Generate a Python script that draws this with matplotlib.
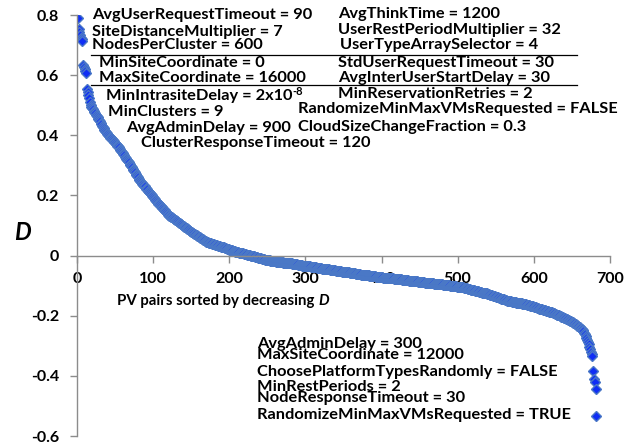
import numpy as np
import matplotlib
matplotlib.use("Agg")
import matplotlib.pyplot as plt

plt.rcParams['font.family'] = ['Lato', 'DejaVu Sans']
plt.rcParams['font.weight'] = 'bold'

# D values of the PV pairs, sorted by decreasing D
d_head = [0.790, 0.752, 0.742, 0.733, 0.725, 0.719, 0.714, 0.635, 0.627, 0.620, 0.613, 0.607,
          0.555, 0.545, 0.534, 0.523, 0.512, 0.500,
          0.495, 0.491, 0.487, 0.482, 0.478, 0.473, 0.469, 0.464, 0.460,
          0.455, 0.451, 0.446, 0.442, 0.437, 0.432, 0.428, 0.423, 0.419, 0.414, 0.410,
          0.407, 0.404, 0.401, 0.398, 0.395, 0.392, 0.390, 0.387, 0.384, 0.381,
          0.378, 0.375, 0.372, 0.369, 0.366, 0.363, 0.360,
          0.356, 0.352, 0.348, 0.345, 0.341, 0.337, 0.333, 0.329, 0.325, 0.321, 0.318, 0.314, 0.310,
          0.306, 0.302, 0.298, 0.293, 0.289, 0.285, 0.281, 0.277, 0.272, 0.268, 0.264, 0.260, 0.256,
          0.253, 0.249, 0.246, 0.243, 0.239, 0.236, 0.233, 0.230, 0.226, 0.223, 0.220, 0.216, 0.213, 0.210,
          0.207, 0.204, 0.201, 0.198, 0.195, 0.191, 0.188, 0.185, 0.182, 0.179, 0.176, 0.173, 0.170,
          0.167, 0.164, 0.161, 0.158, 0.155, 0.153, 0.150, 0.147, 0.144, 0.141, 0.138, 0.135,
          0.133, 0.132, 0.130, 0.128, 0.127, 0.125, 0.123, 0.122, 0.120, 0.118]

d_upper = [0.116, 0.114, 0.112, 0.110, 0.108, 0.106, 0.104, 0.102, 0.100, 0.098,
           0.096, 0.094, 0.092, 0.091, 0.089, 0.087, 0.085, 0.083,
           0.081, 0.080, 0.078, 0.076, 0.075, 0.073, 0.071, 0.070, 0.068, 0.066,
           0.065, 0.063, 0.061, 0.060, 0.058, 0.056, 0.055, 0.053, 0.051, 0.050, 0.048, 0.046, 0.045,
           0.044, 0.043, 0.042, 0.042, 0.041, 0.040, 0.039, 0.038, 0.037, 0.036,
           0.036, 0.035, 0.034, 0.033, 0.032, 0.031, 0.031, 0.030, 0.029, 0.028, 0.028,
           0.027, 0.026, 0.025, 0.024, 0.023, 0.022, 0.021, 0.020, 0.019, 0.019,
           0.018, 0.017, 0.016, 0.015, 0.014, 0.013, 0.013, 0.012,
           0.011, 0.011, 0.010, 0.009, 0.009, 0.008, 0.007, 0.007, 0.006, 0.005,
           0.005, 0.004, 0.003, 0.003, 0.002]

d_middle = [0.001, 0.001, 0.000, -0.001, -0.001, -0.002, -0.003, -0.003, -0.004, -0.005,
            -0.005, -0.006, -0.007, -0.007, -0.008, -0.009, -0.009, -0.010, -0.011, -0.011,
            -0.012, -0.013, -0.013, -0.014, -0.015, -0.015, -0.016, -0.016, -0.017,
            -0.017, -0.018, -0.018, -0.018, -0.019, -0.019, -0.019, -0.020, -0.020, -0.020,
            -0.021, -0.021, -0.021, -0.022, -0.022, -0.022, -0.023, -0.023, -0.023, -0.024,
            -0.024, -0.024, -0.025, -0.025, -0.025, -0.026, -0.026, -0.026, -0.027, -0.027,
            -0.027, -0.028, -0.028, -0.029, -0.029, -0.030, -0.030, -0.031, -0.031, -0.032,
            -0.032, -0.033, -0.033,
            -0.033, -0.034, -0.034, -0.034, -0.035, -0.035, -0.035, -0.036, -0.036, -0.037,
            -0.037, -0.037, -0.038, -0.038, -0.039, -0.039, -0.039, -0.040, -0.040, -0.041,
            -0.041, -0.041, -0.042, -0.042, -0.043, -0.043, -0.043, -0.044, -0.044, -0.045,
            -0.045, -0.045, -0.046, -0.046, -0.047, -0.047, -0.047, -0.048, -0.048, -0.049,
            -0.049, -0.049, -0.050, -0.050,
            -0.050, -0.051, -0.051, -0.051, -0.052, -0.052, -0.053, -0.053, -0.053, -0.054,
            -0.054, -0.055, -0.055, -0.055, -0.056, -0.056, -0.057, -0.057, -0.057, -0.058,
            -0.058, -0.059, -0.059, -0.059, -0.060, -0.060, -0.061, -0.061, -0.061, -0.062,
            -0.062, -0.063, -0.063, -0.063, -0.064, -0.064, -0.065, -0.065, -0.065, -0.066,
            -0.066, -0.066, -0.067, -0.067,
            -0.067, -0.068, -0.068, -0.068, -0.069, -0.069, -0.069, -0.070, -0.070, -0.070,
            -0.071, -0.071, -0.071, -0.072, -0.072, -0.072, -0.073, -0.073, -0.073, -0.074,
            -0.074, -0.074, -0.075, -0.075, -0.075, -0.075, -0.076, -0.076, -0.076, -0.076,
            -0.077, -0.077, -0.077, -0.077, -0.077]

d_lower = [-0.078, -0.078, -0.078, -0.079, -0.079, -0.079, -0.080, -0.080, -0.080, -0.081,
           -0.081, -0.081, -0.082, -0.082, -0.082, -0.083, -0.083, -0.083, -0.084, -0.084,
           -0.084, -0.085, -0.085, -0.085, -0.086, -0.086, -0.086, -0.087, -0.087, -0.087,
           -0.088, -0.088, -0.088, -0.089, -0.089, -0.089, -0.090, -0.090, -0.090, -0.090,
           -0.091, -0.091, -0.091, -0.091, -0.092, -0.092, -0.092, -0.092,
           -0.093, -0.093, -0.093, -0.094, -0.094, -0.094, -0.095, -0.095, -0.095, -0.096,
           -0.096, -0.096, -0.097, -0.097, -0.097, -0.098, -0.098, -0.098, -0.099, -0.099,
           -0.099, -0.100, -0.100, -0.100, -0.101, -0.101, -0.101, -0.102, -0.102, -0.102,
           -0.103, -0.103, -0.103, -0.104, -0.104, -0.105, -0.105, -0.106, -0.106,
           -0.107, -0.107, -0.108, -0.109, -0.109, -0.110, -0.111, -0.111, -0.112, -0.113,
           -0.113, -0.114, -0.115, -0.115, -0.116, -0.117, -0.117, -0.118, -0.119, -0.119,
           -0.120, -0.121, -0.121, -0.122, -0.123, -0.123, -0.124, -0.125, -0.125, -0.126,
           -0.126, -0.127,
           -0.128, -0.129, -0.130, -0.131, -0.131, -0.132, -0.133, -0.134, -0.135, -0.136,
           -0.137, -0.138, -0.138, -0.139, -0.140, -0.141, -0.142, -0.143, -0.144, -0.145,
           -0.145, -0.146, -0.147, -0.148, -0.149, -0.150,
           -0.150, -0.151, -0.151, -0.152, -0.152, -0.153, -0.153, -0.154, -0.154, -0.155,
           -0.155, -0.156, -0.156, -0.157, -0.157, -0.158, -0.158, -0.159, -0.159, -0.160,
           -0.160, -0.161, -0.161, -0.162, -0.162, -0.163, -0.164, -0.164, -0.165, -0.166]

d_tail = [-0.167, -0.168, -0.168, -0.169, -0.170, -0.171, -0.172, -0.172, -0.173, -0.174,
          -0.175, -0.176, -0.176, -0.177, -0.178, -0.179, -0.180, -0.180, -0.181, -0.182,
          -0.183, -0.184, -0.184, -0.185, -0.186, -0.187, -0.188, -0.188, -0.189, -0.190,
          -0.191, -0.192, -0.193, -0.195, -0.196, -0.197, -0.198, -0.199, -0.200, -0.202,
          -0.203, -0.204, -0.205, -0.206, -0.207, -0.209, -0.210, -0.211, -0.212, -0.213,
          -0.214, -0.216, -0.217, -0.218, -0.220, -0.221, -0.223,
          -0.225, -0.227, -0.229, -0.231, -0.233, -0.235, -0.237, -0.239, -0.241, -0.243,
          -0.245, -0.247, -0.250,
          -0.256, -0.262, -0.268, -0.274, -0.280, -0.287, -0.295, -0.303, -0.312, -0.320,
          -0.327, -0.333,
          -0.383, -0.410, -0.420, -0.443, -0.532]

d_values = np.array(d_head + d_upper + d_middle + d_lower + d_tail)
pair_rank = np.arange(1, len(d_values) + 1)

x_ticks = [0, 100, 200, 300, 400, 500, 600, 700]
y_ticks = [-0.6, -0.4, -0.2, 0, 0.2, 0.4, 0.6, 0.8]

# parameter settings written next to the curve: (text, x, y)
top_left_notes = [
    ("AvgUserRequestTimeout = 90", 19.7, 0.799),
    ("SiteDistanceMultiplier = 7", 19.7, 0.745),
    ("NodesPerCluster = 600", 19.7, 0.699),
    ("MinSiteCoordinate = 0", 28.9, 0.639),
    ("MaxSiteCoordinate = 16000", 28.9, 0.589),
    ("MinIntrasiteDelay = 2x10", 38.1, 0.532),
    ("MinClusters = 9", 40.7, 0.479),
    ("AvgAdminDelay = 900", 64.4, 0.426),
    ("ClusterResponseTimeout = 120", 84.1, 0.373),
]
top_right_notes = [
    ("AvgThinkTime = 1200", 343, 0.805),
    ("UserRestPeriodMultiplier = 32", 343, 0.749),
    ("UserTypeArraySelector = 4", 345, 0.702),
    ("StdUserRequestTimeout = 30", 343, 0.642),
    ("AvgInterUserStartDelay = 30", 343, 0.592),
    ("MinReservationRetries = 2", 343, 0.536),
    ("RandomizeMinMaxVMsRequested = FALSE", 290, 0.486),
    ("CloudSizeChangeFraction = 0.3", 290, 0.429),
]
bottom_notes = [
    ("AvgAdminDelay = 300", 236, -0.293),
    ("MaxSiteCoordinate = 12000", 236, -0.329),
    ("ChoosePlatformTypesRandomly = FALSE", 236, -0.386),
    ("MinRestPeriods = 2", 236, -0.436),
    ("NodeResponseTimeout = 30", 236, -0.473),
    ("RandomizeMinMaxVMsRequested = TRUE", 236, -0.529),
]

fig = plt.figure(figsize=(6.32, 4.45), dpi=100)
ax = fig.add_axes([0.1218, 0.0202, 0.8434, 0.946])

ax.plot(pair_rank, d_values, linestyle='none', marker='D', markersize=5.3,
        markerfacecolor='#0F2EF5', markeredgecolor='#4A78C6', markeredgewidth=1.0)

ax.set_xlim(0, 700)
ax.set_ylim(-0.6, 0.8)
ax.set_xticks(x_ticks)
ax.set_yticks(y_ticks)
ax.set_xticklabels([str(v) for v in x_ticks])
ax.set_yticklabels(['-0.6', '-0.4', '-0.2', '0', '0.2', '0.4', '0.6', '0.8'])

ax.spines['top'].set_visible(False)
ax.spines['right'].set_visible(False)
ax.spines['bottom'].set_position(('data', 0))
for s in ('left', 'bottom'):
    ax.spines[s].set_color('#8C8C8C')
    ax.spines[s].set_linewidth(1.0)
ax.tick_params(axis='both', colors='#8C8C8C', length=5, width=1.0,
               labelcolor='black', labelsize=11.5)
ax.tick_params(axis='x', pad=7)
ax.tick_params(axis='y', pad=8)
for lbl in ax.get_xticklabels() + ax.get_yticklabels():
    lbl.set_fontweight('bold')

fig.text(22 / 632, 1 - 233 / 445, 'D', fontsize=17, fontstyle='italic',
         fontweight='bold', ha='center', va='center')

xl = ax.text(53, -0.15, 'PV pairs sorted by decreasing ', fontsize=10.8,
             fontweight='bold', ha='left', va='center')
ax.annotate('D', xy=(1, 0.5), xycoords=xl, va='center', ha='left',
            fontsize=10.8, fontweight='bold', fontstyle='italic')

note_size = 11.8
for txt, x, y in top_left_notes + top_right_notes + bottom_notes:
    t = ax.text(x, y, txt, fontsize=note_size, fontweight='bold',
                ha='left', va='center')
    if txt.endswith('2x10'):
        ax.annotate('-8', xy=(1, 1), xycoords=t, va='top', ha='left',
                    fontsize=8, fontweight='bold', xytext=(0, 2),
                    textcoords='offset points')

# separator lines between groups of settings
ax.plot([18.4, 657], [0.666, 0.666], color='black', linewidth=0.9)
ax.plot([18.4, 657], [0.566, 0.566], color='black', linewidth=0.9)

fig.savefig('out.png', dpi=100)
